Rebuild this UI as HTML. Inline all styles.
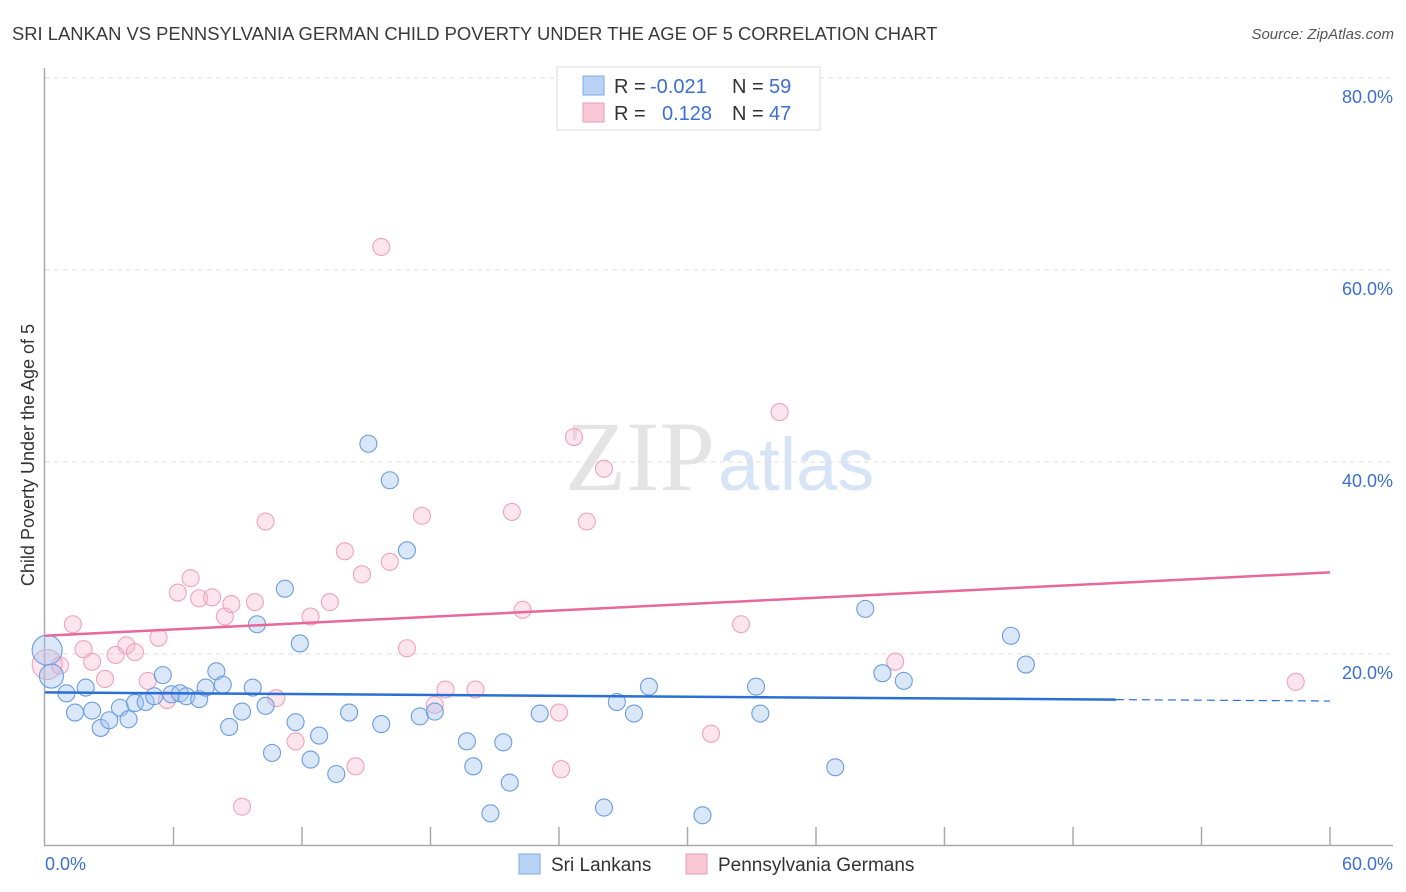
<!DOCTYPE html>
<html><head><meta charset="utf-8"><style>
body{margin:0;background:#fff;font-family:"Liberation Sans",sans-serif;}
#wrap{position:relative;width:1406px;height:892px;overflow:hidden;}
</style></head><body>
<div id="wrap">
<svg id="chart" width="1406" height="892" xmlns="http://www.w3.org/2000/svg">
<text x="12" y="40" font-size="18.4" fill="#3a3a3a">SRI LANKAN VS PENNSYLVANIA GERMAN CHILD POVERTY UNDER THE AGE OF 5 CORRELATION CHART</text>
<text x="1394" y="39" font-size="15" fill="#555" font-style="italic" text-anchor="end">Source: ZipAtlas.com</text>
<text x="715" y="490" font-size="100" fill="#e4e4e4" font-family="Liberation Serif,serif" text-anchor="end">ZIP</text>
<text x="718" y="490" font-size="74" fill="#d6e4f5" text-anchor="start">atlas</text>
<g id="grid"></g>
<g id="axes"></g>
<g id="pts"></g>
<g id="trend"></g>
<text transform="translate(34,455) rotate(-90)" font-size="18" fill="#333" text-anchor="middle">Child Poverty Under the Age of 5</text>
<text x="45" y="870" font-size="18" fill="#3b6fd4">0.0%</text>
<text x="1393" y="870" font-size="18" fill="#3b6fd4" text-anchor="end">60.0%</text>
<g>
<rect x="557" y="67" width="263" height="63" fill="#fff" stroke="#ddd"/>
<rect x="583" y="76" width="21" height="19" fill="#b9d3f5" stroke="#7fa8e4"/>
<rect x="583" y="103" width="21" height="19" fill="#f9c7d6" stroke="#ee9bb4"/>
<text x="614" y="93" font-size="20" fill="#333">R = </text><text x="650" y="93" font-size="20" fill="#3b6fd4">-0.021</text>
<text x="732" y="93" font-size="20" fill="#333">N = </text><text x="769" y="93" font-size="20" fill="#3b6fd4">59</text>
<text x="614" y="120" font-size="20" fill="#333">R = </text><text x="662" y="120" font-size="20" fill="#3b6fd4">0.128</text>
<text x="732" y="120" font-size="20" fill="#333">N = </text><text x="769" y="120" font-size="20" fill="#3b6fd4">47</text>
</g>
<g>
<rect x="519" y="854" width="21" height="20" fill="#b9d3f5" stroke="#7fa8e4"/>
<text x="551" y="871" font-size="19" fill="#333">Sri Lankans</text>
<rect x="686" y="854" width="21" height="20" fill="#f9c7d6" stroke="#ee9bb4"/>
<text x="718" y="871" font-size="19" fill="#333">Pennsylvania Germans</text>
</g>
</svg>
</div>
<script>
const yTicks=[20,40,60,80];
const yTickLabels=["20.0%","40.0%","60.0%","80.0%"];
const xTicks=[0,6,12,18,24,30,36,42,48,54,60];
const blueX=[0.1,0.3,1.0,1.4,1.9,2.2,2.6,3.0,3.5,3.9,4.2,4.7,5.1,5.5,5.9,6.3,6.6,7.2,7.5,8.0,8.3,8.6,9.2,9.7,9.9,10.3,10.6,11.2,11.7,11.9,12.4,12.8,13.6,14.2,15.1,15.7,16.1,16.9,17.5,18.2,19.7,20.0,20.8,21.4,21.7,23.1,26.1,26.7,27.5,28.2,30.7,33.2,33.4,36.9,38.3,39.1,40.1,45.1,45.8];
const blueY=[20.4,17.7,15.9,13.9,16.5,14.1,12.3,13.1,14.4,13.2,14.9,15.0,15.6,17.8,15.8,15.9,15.6,15.3,16.5,18.2,16.8,12.4,14.0,16.5,23.1,14.6,9.7,26.8,12.9,21.1,9.0,11.5,7.5,13.9,41.9,12.7,38.1,30.8,13.5,14.0,10.9,8.3,3.4,10.8,6.6,13.8,4.0,15.0,13.8,16.6,3.2,16.6,13.8,8.2,24.7,18.0,17.2,21.9,18.9];
const pinkX=[0.1,0.7,1.3,1.8,2.2,2.8,3.3,3.8,4.2,4.8,5.3,5.7,6.2,6.8,7.2,7.8,8.4,8.7,9.2,9.8,10.3,10.8,11.7,12.4,13.3,14.0,14.5,14.8,15.7,16.1,16.9,17.6,18.2,18.7,20.1,21.8,22.3,24.0,24.1,24.7,25.3,26.1,31.1,32.5,34.3,39.7,58.4];
const pinkY=[18.9,18.8,23.1,20.5,19.2,17.4,19.9,20.9,20.2,17.2,21.7,15.2,26.4,27.9,25.8,25.9,23.9,25.2,4.1,25.4,33.8,15.4,10.9,23.9,25.4,30.7,8.3,28.3,62.4,29.6,20.6,34.4,14.7,16.3,16.3,34.8,24.6,13.9,8.0,42.6,33.8,39.3,11.7,23.1,45.2,19.2,17.1];
const blueTrend=[16.0,15.1];
const pinkTrend=[21.9,28.5];
const NS="http://www.w3.org/2000/svg";
const X=v=>45+v*1285/60;
const Y=v=>846-v*9.6;
function mk(t,a,p){const e=document.createElementNS(NS,t);for(const k in a)e.setAttribute(k,a[k]);p.appendChild(e);return e;}
const grid=document.getElementById('grid'),axes=document.getElementById('axes'),pts=document.getElementById('pts'),trend=document.getElementById('trend');
yTicks.forEach((t,i)=>{
 const l=mk('line',{x1:45,x2:1393,y1:Y(t),y2:Y(t),stroke:'#ddd','stroke-dasharray':'5,4'},grid);
 
 
 const tx=mk('text',{x:1393,y:Y(t)+25,'font-size':18,fill:'#3b6fd4','text-anchor':'end'},grid);
 tx.textContent=yTickLabels[i];
 
 
});
const ya=mk('line',{x1:44.5,x2:44.5,y1:68,y2:846,stroke:'#aaa','stroke-width':1.5},axes);


const xa=mk('line',{x1:44,x2:1393,y1:845.5,y2:845.5,stroke:'#aaa','stroke-width':1.5},axes);


xTicks.forEach(t=>{
 if(t===0)return;
 const l=mk('line',{x1:X(t),x2:X(t),y1:827,y2:846,stroke:'#aaa','stroke-width':1.5},axes);
 
 
});
function dots(xs,ys,fill,stroke,name){
 xs.forEach((x,i)=>{
  const r=i===0?15:(i===1&&name==='sri-lankan-point'?12:8.5);
  const c=mk('circle',{cx:X(x),cy:Y(ys[i]),r:r,fill:fill,stroke:stroke,'stroke-width':1.1},pts);
  
  
 });
}
dots(pinkX,pinkY,'rgba(248,180,202,0.35)','#f0a3bb','pennsylvania-german-point');
dots(blueX,blueY,'rgba(160,196,240,0.4)','#6a9de0','sri-lankan-point');
const bs=mk('line',{x1:X(0),y1:Y(blueTrend[0]),x2:X(50),y2:Y(blueTrend[0]+(blueTrend[1]-blueTrend[0])*50/60),stroke:'#2a6fd6','stroke-width':2.5},trend);


const bd=mk('line',{x1:X(50),y1:Y(blueTrend[0]+(blueTrend[1]-blueTrend[0])*50/60),x2:X(60),y2:Y(blueTrend[1]),stroke:'#2a6fd6','stroke-width':1.2,'stroke-dasharray':'8,5'},trend);


const pl=mk('line',{x1:X(0),y1:Y(pinkTrend[0]),x2:X(60),y2:Y(pinkTrend[1]),stroke:'#e8689a','stroke-width':2.5},trend);


</script>
</body></html>
